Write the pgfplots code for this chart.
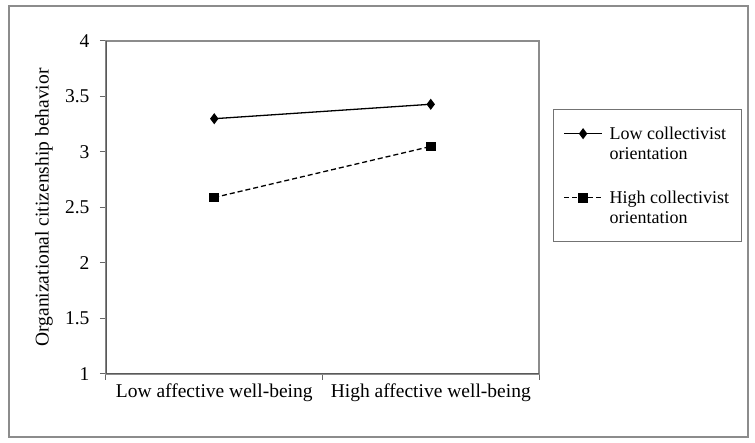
\documentclass[border=0pt]{standalone}
\usepackage{fontspec}
\setmainfont{Liberation Serif}
\usepackage{pgfplots}
\pgfplotsset{compat=1.18}
\newcommand\chartfont{\fontsize{19.5}{21}\selectfont}
\newcommand\legfont{\fontsize{18}{20}\selectfont}
\begin{document}
\begin{tikzpicture}[x=1pt,y=1pt]
\path[use as bounding box] (0,0) rectangle (755,443);
\draw[black!45, line width=1.3pt] (9,6) rectangle (748,437);
\begin{axis}[
    at={(106pt,69pt)}, anchor=south west,
    scale only axis, width=433pt, height=333pt,
    xmin=0, xmax=2, ymin=1, ymax=4,
    xtick={0.5,1.5},
    xticklabels={Low affective well-being, High affective well-being},
    minor xtick={0,1,2},
    ytick={1,1.5,2,2.5,3,3.5,4},
    tick align=outside,
    xtick pos=left, ytick pos=left,
    major tick length=6pt, minor tick length=6pt,
    every major x tick/.append style={draw=none},
    every tick/.append style={black!60, line width=1pt},
    axis line style={black!45, line width=1.1pt},
    tick label style={font=\chartfont},
    yticklabel style={xshift=-7pt},
    /pgf/number format/assume math mode=true,
    ylabel={Organizational citizenship behavior},
    ylabel style={font=\chartfont, at={(axis description cs:-0.143,0.5)}, anchor=center},
    legend cell align=left,
    legend style={at={(axis description cs:1.0323,0.795)}, anchor=north west,
        draw=black!55, line width=0.9pt, font=\legfont,
        inner xsep=10pt, inner ysep=15pt, row sep=26pt,
        cells={align=left}, nodes={inner sep=2pt},
        /tikz/every odd column/.append style={column sep=5pt}},
    legend image code/.code={
        \draw[mark repeat=2, mark phase=2, yshift=10pt, #1]
            plot coordinates {(0pt,0pt) (19pt,0pt) (38pt,0pt)};},
]
\addplot[black, line width=1.3pt, mark=diamond*, mark size=4.5pt]
    coordinates {(0.5,3.30) (1.5,3.43)};
\addlegendentry{Low collectivist\\orientation}
\addplot[black, line width=1.3pt, dash pattern=on 5pt off 3pt,
    mark=square*, mark size=4.2pt, mark options={solid}]
    coordinates {(0.5,2.59) (1.5,3.05)};
\addlegendentry{High collectivist\\orientation}
\draw[black!65, line width=1.3pt] (rel axis cs:0,1) -- (rel axis cs:0,0) -- (rel axis cs:1,0);
\end{axis}
\end{tikzpicture}
\end{document}
